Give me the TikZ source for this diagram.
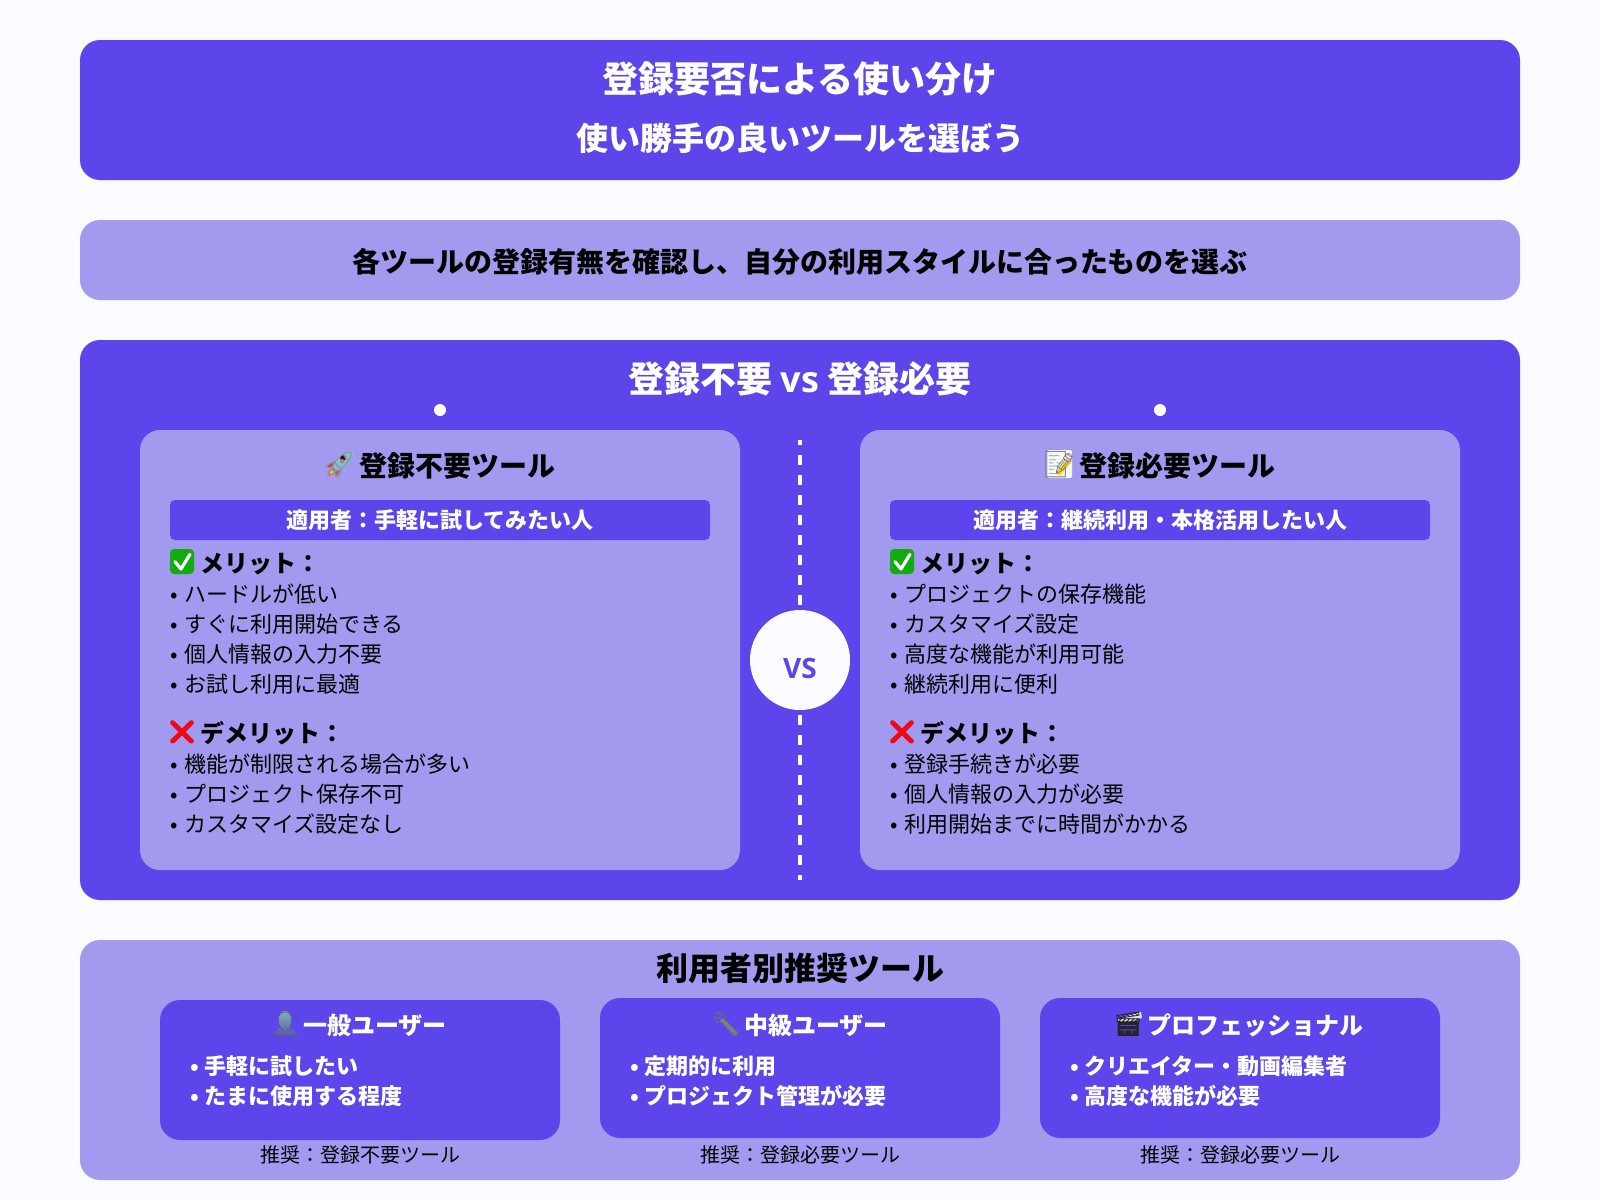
\documentclass[tikz,border=0pt]{standalone}
\usepackage{fontspec}
\setmainfont{Noto Sans CJK JP}
\newfontfamily\emo{Noto Emoji}
\newfontfamily\lat{Open Sans}
\definecolor{bgc}{HTML}{FAFAFF}
\definecolor{indigo}{HTML}{5B45EB}
\definecolor{lilac}{HTML}{A29AEF}
\definecolor{okgreen}{HTML}{12AC12}
\definecolor{ngred}{HTML}{EE0A14}
\definecolor{rkbody}{HTML}{8DB8D8}
\definecolor{rkfin}{HTML}{E8261C}
\newcommand{\fz}[1]{\fontsize{\dimexpr#1pt*3/4\relax}{\dimexpr#1pt\relax}\selectfont}
\newcommand{\bl}{•\hspace{1.5pt} }
\newcommand{\blb}{•\hspace{0.75pt} }
\tikzset{
 panel/.style={fill=indigo,rounded corners=15pt,draw=none},
 lightpanel/.style={fill=lilac,rounded corners=15pt,draw=none},
 barbox/.style={fill=indigo,rounded corners=3.75pt,draw=none},
 txt/.style={inner sep=0pt,outer sep=0pt,anchor=base},
 txtl/.style={inner sep=0pt,outer sep=0pt,anchor=base west},
 h1/.style={txt,text=white,font=\fz{36}\bfseries},
 h2/.style={txt,text=white,font=\fz{32}\bfseries},
 h3/.style={txt,text=black,font=\fz{28}\bfseries},
 cardtitle/.style={txtl,text=black,font=\fz{28}\bfseries},
 barlabel/.style={txt,text=white,font=\fz{22}\bfseries},
 headlabel/.style={txtl,text=black,font=\fz{24}\bfseries},
 itemlabel/.style={txtl,text=black,font=\fz{22}},
 boxtitle/.style={txtl,text=white,font=\fz{24}\bfseries},
 boxitem/.style={txtl,text=white,font=\fz{22}\bfseries},
 reclabel/.style={txt,text=black,font=\fz{20}},
 emj/.style={inner sep=0pt,outer sep=0pt,anchor=center,font=\emo\fz{24}},
 okbox/.style={rounded corners=3pt,fill=okgreen,minimum width=18pt,minimum height=18.75pt,inner sep=0pt,text=okgreen,font=\emo\fz{16}},
 okcheck/.style={white,line width=2.4pt,line cap=round,line join=round},
 ngcross/.style={ngred,line width=3.6pt},
}
\begin{document}
\begin{tikzpicture}[x=0.75pt,y=-0.75pt]
\useasboundingbox (0,0) rectangle (1600,1200);
\fill[bgc] (0,0) rectangle (1600,1200);
% top
\fill[panel] (80,40) rectangle (1520,180);
\node[h1] (t1) at (800,92) {登録要否による使い分け};
\node[h2] (t2) at (800,150) {使い勝手の良いツールを選ぼう};
\fill[lightpanel] (80,220) rectangle (1520,300);
\node[h3] (sub) at (800,272) {各ツールの登録有無を確認し、自分の利用スタイルに合ったものを選ぶ};
% main
\fill[panel] (80,340) rectangle (1520,900);
\node[h1] (sec) at (800,392) {登録不要 {\lat\bfseries vs} 登録必要};
\fill[white] (440,410) circle (6);
\fill[white] (1160,410) circle (6);
\fill[lightpanel] (140,430) rectangle (740,870);
\fill[lightpanel] (860,430) rectangle (1460,870);
% divider
\coordinate (da) at (800,440);
\coordinate (db) at (800,880);
\draw[white,line width=3pt,dash pattern=on 7.5pt off 7.5pt,dash phase=3.75pt] (da) -- (db);
\node[circle,fill=bgc,minimum size=75pt,inner sep=0pt] (vsc) at (800,660) {};
\node[txt,text=indigo,font=\lat\fz{28}\bfseries] (vs) at (800,678) {VS};
% rocket
\fill[rkfin] (335,461) -- (327.3,466.7) -- (338,468) -- cycle;
\fill[rkfin] (340.7,469) -- (336,476.7) -- (334,464) -- cycle;
\fill[orange] (332,466.7) -- (327.3,477.3) -- (336.7,471) -- cycle;
\fill[yellow!90!orange] (332.5,469) -- (329.5,475) -- (335,471) -- cycle;
\fill[rkbody] (342.5,461) ellipse [x radius=10.5pt,y radius=4.6pt,rotate=45];
\fill[black!70!red] (343,458) circle (2.8);
\node[emj,text=black!45,font=\emo\fz{26}] (e1) at (339,465) {🚀};
\node[cardtitle] (c1) at (359,476) {登録不要ツール};
\fill[barbox] (170,500) rectangle (710,540);
\node[barlabel] (b1) at (440,528) {適用者：手軽に試してみたい人};
\node[okbox] (m1i) at (182,561.5) {✅};
\draw[okcheck] (175,561.7) -- (181,569) -- (190,554.3);
\node[headlabel] (m1) at (200,572) {メリット：};
\node[itemlabel] (m11) at (170,602) {\bl ハードルが低い};
\node[itemlabel] (m12) at (170,632) {\bl すぐに利用開始できる};
\node[itemlabel] (m13) at (170,662) {\bl 個人情報の入力不要};
\node[itemlabel] (m14) at (170,692) {\bl お試し利用に最適};
\draw[ngcross] (172.5,722.5) -- (191.5,741.5) (191.5,722.5) -- (172.5,741.5);
\node[emj,text=ngred] (d1i) at (182,732) {❌};
\node[headlabel] (d1) at (200,742) {デメリット：};
\node[itemlabel] (d11) at (170,772) {\bl 機能が制限される場合が多い};
\node[itemlabel] (d12) at (170,802) {\bl プロジェクト保存不可};
\node[itemlabel] (d13) at (170,832) {\bl カスタマイズ設定なし};
% right card
\fill[black!3!white,rounded corners=1pt] (1047.3,450) rectangle (1072,478);
\draw[yellow!80!orange,line width=3.9pt] (1069,461) -- (1058,474);
\fill[red!30!white] (1067.5,457) -- (1072.5,461) -- (1070,464) -- (1065,460) -- cycle;
\node[emj,text=black!50,font=\emo\fz{26}] (e2) at (1059,465) {📝};
\node[cardtitle] (c2) at (1079,476) {登録必要ツール};
\fill[barbox] (890,500) rectangle (1430,540);
\node[barlabel] (b2) at (1160,528) {適用者：継続利用・本格活用したい人};
\node[okbox] (m2i) at (902,561.5) {✅};
\draw[okcheck] (895,561.7) -- (901,569) -- (910,554.3);
\node[headlabel] (m2) at (920,572) {メリット：};
\node[itemlabel] (m21) at (890,602) {\bl プロジェクトの保存機能};
\node[itemlabel] (m22) at (890,632) {\bl カスタマイズ設定};
\node[itemlabel] (m23) at (890,662) {\bl 高度な機能が利用可能};
\node[itemlabel] (m24) at (890,692) {\bl 継続利用に便利};
\draw[ngcross] (892.5,722.5) -- (911.5,741.5) (911.5,722.5) -- (892.5,741.5);
\node[emj,text=ngred] (d2i) at (902,732) {❌};
\node[headlabel] (d2) at (920,742) {デメリット：};
\node[itemlabel] (d21) at (890,772) {\bl 登録手続きが必要};
\node[itemlabel] (d22) at (890,802) {\bl 個人情報の入力が必要};
\node[itemlabel] (d23) at (890,832) {\bl 利用開始までに時間がかかる};
% bottom
\fill[lightpanel] (80,940) rectangle (1520,1180);
\node[txt,text=black,font=\fz{32}\bfseries] (low) at (800,980) {利用者別推奨ツール};
\fill[panel] (160,1000) rectangle (560,1140);
\fill[panel] (600,998) rectangle (1000,1138);
\fill[panel] (1040,998) rectangle (1440,1138);
% person
\shade[top color=cyan!25!gray!80!white,bottom color=blue!30!gray] (273.3,1036) .. controls (273.5,1030) and (279,1029.5) .. (281,1027) .. controls (277,1022) and (278,1011) .. (285,1011) .. controls (292,1011) and (293,1022) .. (289,1027) .. controls (291,1029.5) and (296.5,1030) .. (297.3,1036) -- cycle;
\node[emj,text=blue!30!gray] (u1i) at (285,1024) {👤};
\node[boxtitle] (u1) at (303,1034) {一般ユーザー};
\node[boxitem] (u11) at (190,1074) {\blb 手軽に試したい};
\node[boxitem] (u12) at (190,1104) {\blb たまに使用する程度};
\node[reclabel] (r1) at (360,1162) {推奨：登録不要ツール};
% wrench
\draw[black!50,line width=2.6pt] (721,1019) -- (736,1034);
\node[emj,text=black!55] (u2i) at (726,1024) {🔧};
\node[boxtitle] (u2) at (744,1034) {中級ユーザー};
\node[boxitem] (u21) at (630,1074) {\blb 定期的に利用};
\node[boxitem] (u22) at (630,1104) {\blb プロジェクト管理が必要};
\node[reclabel] (r2) at (800,1162) {推奨：登録必要ツール};
% clapper
\fill[black!12] (1118,1019) -- (1141,1012) -- (1142,1018) -- (1119,1025) -- cycle;
\node[emj,text=black!85] (u3i) at (1128,1024) {🎬};
\node[boxtitle] (u3) at (1147.5,1034) {プロフェッショナル};
\node[boxitem] (u31) at (1070,1074) {\blb クリエイター・動画編集者};
\node[boxitem] (u32) at (1070,1104) {\blb 高度な機能が必要};
\node[reclabel] (r3) at (1240,1162) {推奨：登録必要ツール};
\end{tikzpicture}
\end{document}
